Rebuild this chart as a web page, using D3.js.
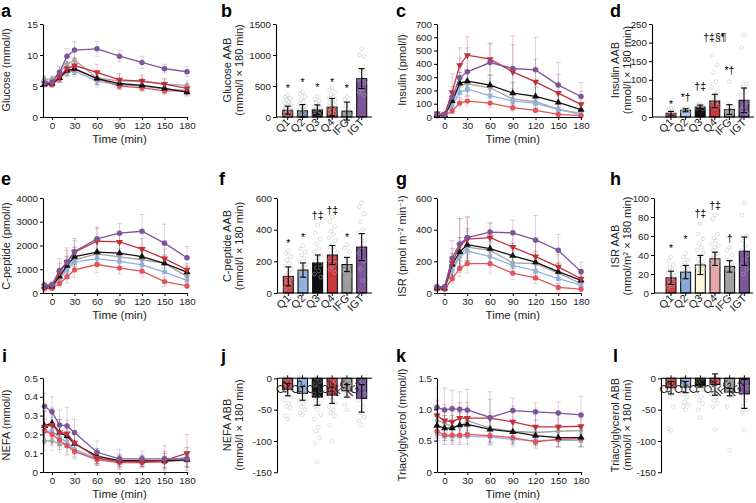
<!DOCTYPE html>
<html><head><meta charset="utf-8">
<script src="https://cdn.jsdelivr.net/npm/d3@7"></script>
<style>body{margin:0;background:#fff} svg text{font-family:Arial,"Liberation Sans",sans-serif}</style>
</head><body><svg id="c" width="756" height="503"></svg>
<script>
// ---------- data ----------
const time = [-10,0,10,20,30,60,90,120,150,180];
const timeTicks = [0,30,60,90,120,150,180];
const groups = ["Q1","Q2","Q3","Q4","IFG","IGT"];

// line panels: rows = Q1,Q2,Q3,Q4,IFG,IGT
const glucoseMean = [
 [5.3,5.2,6.2,7.5,7.7,6.2,5.0,4.7,4.2,4.2],
 [5.3,5.3,6.3,7.3,7.4,5.8,5.2,5.0,4.5,4.3],
 [5.3,5.4,6.3,7.5,7.8,6.2,5.4,5.1,4.6,4.0],
 [5.5,5.5,6.5,7.8,8.3,7.2,6.0,5.8,5.3,4.6],
 [6.1,6.1,7.2,8.5,9.2,6.3,5.8,5.8,5.3,5.1],
 [5.5,5.6,7.2,9.8,10.8,11.0,9.8,8.8,7.8,7.3]];
const glucoseErr = [
 [0.4,0.4,0.6,0.8,0.8,0.9,0.6,0.6,0.6,0.6],
 [0.4,0.4,0.7,0.8,0.9,1.0,0.8,0.7,0.7,0.6],
 [0.4,0.4,0.7,0.9,0.9,1.0,0.8,0.8,0.7,0.6],
 [0.5,0.5,0.8,0.9,1.0,1.3,1.0,1.0,0.9,0.7],
 [0.6,0.5,0.9,1.0,1.0,1.1,1.0,0.9,0.8,0.8],
 [0.6,0.6,1.0,1.2,1.3,1.2,0.9,1.0,0.7,0.8]];

const insulinMean = [
 [10,10,45,105,120,105,70,50,20,10],
 [15,15,90,185,210,160,120,105,55,20],
 [15,15,120,255,270,240,180,155,110,55],
 [25,20,185,390,465,435,340,265,180,95],
 [15,15,100,240,250,220,135,115,60,25],
 [20,15,150,295,340,410,365,355,240,154]];
const insulinErr = [
 [5,5,20,30,35,35,25,20,10,5],
 [8,8,40,55,55,50,45,40,30,15],
 [10,10,60,80,80,75,80,70,60,40],
 [15,15,140,130,140,120,270,170,140,100],
 [10,10,50,70,80,70,80,60,40,20],
 [10,10,80,150,180,140,180,245,170,104]];

const cpepMean = [
 [180,200,400,680,970,1200,1050,920,480,300],
 [220,230,600,950,1300,1450,1330,1180,880,530],
 [280,280,700,1150,1530,1720,1680,1530,1250,880],
 [280,300,850,1300,1720,2180,2150,1850,1450,980],
 [300,300,700,1050,1400,1650,1520,1400,1250,700],
 [320,350,950,1300,1750,2280,2520,2600,2100,1480]];
const cpepErr = [
 [80,80,150,250,300,350,250,250,200,120],
 [100,100,200,300,350,350,300,300,250,200],
 [120,120,300,400,400,450,400,400,350,250],
 [130,130,400,500,500,550,450,450,400,250],
 [120,120,250,350,400,400,350,350,300,200],
 [150,150,500,600,550,500,400,700,800,470]];

const isrMean = [
 [25,25,90,155,185,185,125,95,35,25],
 [30,30,140,230,265,230,175,140,90,50],
 [30,30,180,260,305,280,235,195,135,80],
 [30,30,190,300,340,350,290,230,165,90],
 [35,35,150,240,290,270,190,185,125,60],
 [40,40,220,310,350,385,380,335,270,135]];
const isrErr = [
 [10,10,30,50,60,60,40,35,25,15],
 [12,12,50,70,80,70,60,50,40,25],
 [12,12,70,90,100,90,80,70,55,40],
 [15,15,90,170,140,90,100,90,80,50],
 [15,15,60,90,100,90,70,70,60,40],
 [15,15,110,160,130,60,80,155,100,60]];

const nefaMean = [
 [0.22,0.20,0.17,0.14,0.11,0.065,0.05,0.05,0.055,0.065],
 [0.215,0.22,0.18,0.16,0.12,0.07,0.055,0.05,0.055,0.08],
 [0.245,0.26,0.21,0.19,0.15,0.085,0.06,0.06,0.06,0.065],
 [0.24,0.25,0.21,0.205,0.155,0.075,0.055,0.055,0.06,0.10],
 [0.165,0.165,0.15,0.145,0.12,0.07,0.06,0.06,0.06,0.06],
 [0.35,0.32,0.25,0.245,0.21,0.105,0.07,0.07,0.07,0.07]];
const nefaErr = [
 [0.06,0.06,0.05,0.05,0.04,0.03,0.02,0.02,0.03,0.04],
 [0.07,0.07,0.06,0.05,0.04,0.03,0.03,0.03,0.03,0.05],
 [0.08,0.08,0.07,0.06,0.05,0.04,0.03,0.03,0.04,0.04],
 [0.08,0.08,0.07,0.07,0.06,0.04,0.04,0.03,0.05,0.10],
 [0.05,0.05,0.05,0.05,0.04,0.03,0.02,0.02,0.02,0.03],
 [0.07,0.08,0.08,0.10,0.07,0.06,0.05,0.04,0.07,0.06]];

const tgMean = [
 [0.65,0.59,0.59,0.59,0.60,0.58,0.55,0.48,0.52,0.53],
 [0.61,0.57,0.57,0.57,0.57,0.56,0.52,0.50,0.51,0.50],
 [0.74,0.70,0.70,0.75,0.76,0.68,0.64,0.58,0.55,0.55],
 [0.90,0.82,0.80,0.86,0.86,0.86,0.80,0.72,0.72,0.73],
 [0.82,0.78,0.72,0.72,0.82,0.70,0.65,0.63,0.65,0.66],
 [1.03,0.99,1.01,1.00,0.99,0.87,0.98,0.96,0.94,0.91]];
const tgErr = [
 [0.15,0.15,0.15,0.15,0.15,0.15,0.12,0.10,0.12,0.12],
 [0.15,0.13,0.13,0.13,0.13,0.13,0.12,0.10,0.10,0.10],
 [0.20,0.20,0.20,0.20,0.20,0.20,0.18,0.15,0.15,0.15],
 [0.25,0.25,0.25,0.25,0.25,0.30,0.25,0.20,0.20,0.20],
 [0.25,0.25,0.25,0.25,0.25,0.25,0.20,0.20,0.20,0.20],
 [0.32,0.35,0.30,0.28,0.33,0.41,0.20,0.14,0.18,0.30]];

// bar panels: mean, SD, individual values, annotations
const glucoseAABMean = [110,100,115,160,95,620];
const glucoseAABSd = [65,100,80,140,145,160];
const glucoseAABDots = [
 [350,320,300,280,250,220,200,180,160,150,140,120,100,90,80,60,40,30,20,10],
 [400,370,330,280,250,210,180,150,130,110,90,70,50,40,20,10],
 [330,290,260,230,200,170,150,130,110,90,70,50,30,10],
 [470,440,400,360,320,300,280,250,230,200,180,160,140,120,100,80,60,40,20],
 [320,280,230,180,120,80,40,20,10],
 [1100,1000,980,750,620,600,550,450,400,350]];
const glucoseAABNotes = ["*","*","*","*","*",""];
const glucoseAABNoteY = [465,560,480,570,465,0];

const insulinAABMean = [10,18,27,43,20,45];
const insulinAABSd = [5,4,5,18,13,33];
const insulinAABDots = [
 [25,20,15,12,10,8,6,4],
 [25,22,20,18,16,14,12],
 [35,32,30,28,26,24,22],
 [200,165,140,120,95,80,70,60,55,50,45,40,35,30,25],
 [95,35,28,22,18,15,12,10],
 [220,187,90,80,70,60,40,30,20,10]];
const insulinAABNotes = ["*","*†","†‡","†‡§¶","*†",""];
const insulinAABNoteY = [36,55,84,214,127,0];

const cpepAABMean = [105,145,190,240,180,290];
const cpepAABSd = [60,45,50,60,45,85];
const cpepAABDots = [
 [265,250,230,210,190,170,150,130,110,90,70,50,30],
 [300,280,260,240,220,200,180,160,140,120,100,80],
 [430,380,340,310,280,260,240,220,200,180,160,140,120,100],
 [480,450,420,390,370,350,330,310,290,270,250,230,210,190,170,150,130],
 [305,285,260,200,170,140,110,90],
 [570,545,500,450,400,380,330,290,250,200,150,80]];
const cpepAABNotes = ["*","*","†‡","†‡","*",""];
const cpepAABNoteY = [315,352,495,526,356,0];

const isrAABMean = [16,22,29.5,36,28,44];
const isrAABSd = [7,7,10,7,6,15];
const isrAABDots = [
 [38,34,30,27,24,21,18,16,14,12,10,8,6],
 [42,38,35,32,29,27,25,23,21,19,17,15,13],
 [73,62,57,52,48,45,42,39,36,33,31,29,27,25,23,21],
 [82,78,62,58,55,52,50,48,45,42,40,38,36,34,32,30,28,26,24],
 [48,45,40,35,30,27,24,20,16],
 [95,82,60,55,50,45,40,35,30,25,20]];
const isrAABNotes = ["*","*","†‡","†‡","†",""];
const isrAABNoteY = [47,57,84,93,58,0];

const nefaABBMean = [-18,-24,-30,-27,-20,-32];
const nefaABBSd = [10,11,13,13,10,22];
const nefaABBDots = [
 [-65,-60,-48,-45,-40,-35,-30,-25,-20,-15,-10,-5,0],
 [-58,-55,-50,-45,-40,-35,-30,-25,-20,-15,-10,-5,0],
 [-133,-103,-95,-85,-78,-65,-58,-50,-45,-40,-35,-30,-25,-20,-15,-10,-5,0],
 [-100,-75,-60,-55,-50,-45,-40,-35,-30,-25,-20,-15,-10,-5],
 [-50,-42,-30,-25,-20,-15,-10,-5],
 [-75,-68,-62,-55,-45,-35,-25,-15,-8]];

const tgABBMean = [-15,-14,-12,-10,-22,-25];
const tgABBSd = [10,9,2,17,6,23];
const tgABBDots = [
 [-83,-80,-45,-30,-25,-20,-15,-10,-5,0],
 [-50,-45,-42,-38,-30,-25,-20,-15,-10,-5,0],
 [-63,-50,-40,-35,-30,-25,-18,-12,-5,0],
 [-82,-45,-40,-35,-30,-25,-20,-15,-10,-5,0],
 [-115,-45,-28,-20,-15,-10],
 [-83,-55,-50,-45,-35,-25,-15,-5]];

// ---------- styles ----------
const lineCol = ["#e2535b","#8fb0de","#111111","#c1303b","#a2a2a2","#7c559a"];
const drawOrder = [4,1,0,2,3,5];
const barColA = ["#c0393f","#5878a8","#111111","#c8383f","#8e8e8e","#7c559a"];
const barColB = ["#c0393f","#a6c3ea","#111111","#c8383f","#9c9c9c","#7c559a"];
const barColF = ["#d04a50","#8fb0de","#111111","#c8383f","#9c9c9c","#7c559a"];
const barColJ = ["#c0393f","#8fb0de","#111111","#c8383f","#9c9c9c","#7c559a"];
const barColH = ["#d2434a","#86a6dc","#fff8dc","#e9a5a5","#a0a0a0","#7c559a"];

const svg = d3.select("#c");
const FONT = 'Arial,"Liberation Sans",sans-serif';

function styleAxis(g){
  g.selectAll("path.domain").attr("stroke","#000").attr("stroke-width",1.1);
  g.selectAll(".tick line").attr("stroke","#000").attr("stroke-width",1);
  g.selectAll(".tick text").attr("font-size","9.8px").attr("fill","#222").attr("font-family",FONT);
}
function letter(t,x,y){
  svg.append("text").attr("x",x).attr("y",y).text(t)
    .attr("font-size","18px").attr("font-weight","bold").attr("font-family",FONT);
}
function yTitle(lines,x,yc){
  lines.forEach((l,i)=>{
    const t = svg.append("text").attr("transform",`translate(${l.x},${yc}) rotate(-90)`)
      .attr("text-anchor","middle").attr("font-size","11px").attr("fill","#222").attr("font-family",FONT);
    l.parts.forEach(p=>{
      const ts = t.append("tspan").text(p.t);
      if(p.sup){ ts.attr("baseline-shift","super").attr("font-size","7px"); }
    });
  });
}
function symbolPath(i){
  const types=[d3.symbolCircle,d3.symbolSquare,d3.symbolTriangle,d3.symbolTriangle,d3.symbolDiamond,d3.symbolCircle];
  const sizes=[22,19,22,22,20,24];
  return d3.symbol().type(types[i]).size(sizes[i])();
}

function linePanel(cfg, means, errs){
  const x = d3.scaleLinear().domain(cfg.xd).range(cfg.xr);
  const y = d3.scaleLinear().domain(cfg.yd).range(cfg.yr);
  const g = svg.append("g");
  drawOrder.forEach(s=>{
    const eg = g.append("g").attr("stroke",lineCol[s]).attr("stroke-opacity",0.3).attr("stroke-width",0.9);
    time.forEach((t,k)=>{
      const m = means[s][k], e = errs[s][k];
      const lo = Math.max(cfg.yd[0], m-e);
      eg.append("line").attr("x1",x(t)).attr("x2",x(t)).attr("y1",y(m+e)).attr("y2",y(lo));
      eg.append("line").attr("x1",x(t)-2.5).attr("x2",x(t)+2.5).attr("y1",y(m+e)).attr("y2",y(m+e));
      if(m-e>cfg.yd[0]) eg.append("line").attr("x1",x(t)-2.5).attr("x2",x(t)+2.5).attr("y1",y(m-e)).attr("y2",y(m-e));
    });
  });
  const line = d3.line().x((d,k)=>x(time[k])).y(d=>y(d));
  drawOrder.forEach(s=>{
    g.append("path").datum(means[s]).attr("d",line).attr("fill","none")
      .attr("stroke",lineCol[s]).attr("stroke-width",1.3);
    g.selectAll(null).data(means[s]).join("path")
      .attr("d",symbolPath(s))
      .attr("transform",(d,k)=>`translate(${x(time[k])},${y(d)})${s===3?" rotate(180)":""}`)
      .attr("fill",lineCol[s]);
  });
  const ax = g.append("g").attr("transform",`translate(0,${cfg.yr[0]})`)
    .call(d3.axisBottom(x).tickValues(timeTicks).tickSize(3).tickSizeOuter(0).tickPadding(2));
  styleAxis(ax);
  const ay = g.append("g").attr("transform",`translate(${cfg.xr[0]},0)`)
    .call(d3.axisLeft(y).tickValues(cfg.ticks).tickSize(3).tickSizeOuter(0).tickPadding(2).tickFormat(cfg.fmt||(d=>String(d))));
  styleAxis(ay);
  svg.append("text").attr("x",(x(0)+x(180))/2).attr("y",cfg.yr[0]+26).attr("text-anchor","middle")
    .attr("font-size","11.5px").attr("fill","#222").attr("font-family",FONT).text("Time (min)");
}

function barPanel(cfg, means, sds, dots, cols, notes, noteY){
  const step = (cfg.c1-cfg.c0)/5;
  const x = d3.scaleBand().domain(groups).range([cfg.c0-step/2, cfg.c1+step/2]).paddingInner(0.32).paddingOuter(0.16);
  const y = d3.scaleLinear().domain(cfg.yd).range(cfg.yr);
  const g = svg.append("g");
  const neg = cfg.yd[1] <= 0;
  const y0 = y(0);
  groups.forEach((grp,i)=>{
    const m = means[i];
    g.append("rect").attr("x",x(grp)).attr("width",x.bandwidth())
      .attr("y",Math.min(y(m),y0)).attr("height",Math.abs(y(m)-y0))
      .attr("fill",cols[i]).attr("stroke","#000").attr("stroke-width",1);
  });
  groups.forEach((grp,i)=>{
    const cx = x(grp)+x.bandwidth()/2;
    const offs=[0,-2.4,2.4,-1.2,1.2,-3.2,3.2];
    g.selectAll(null).data(dots[i]).join("circle")
      .attr("cx",(d,k)=>cx+offs[k%offs.length]).attr("cy",d=>y(d)).attr("r",1.9)
      .attr("fill","none").attr("stroke","#b9b9b9").attr("stroke-opacity",0.6).attr("stroke-width",0.75);
  });
  groups.forEach((grp,i)=>{
    const cx = x(grp)+x.bandwidth()/2, m=means[i], s=sds[i];
    const a = y(m+s), b = y(m-s);
    g.append("line").attr("x1",cx).attr("x2",cx).attr("y1",a).attr("y2",b).attr("stroke","#000").attr("stroke-width",1.1);
    [a,b].forEach(yy=>g.append("line").attr("x1",cx-3).attr("x2",cx+3).attr("y1",yy).attr("y2",yy).attr("stroke","#000").attr("stroke-width",1.1));
  });
  if(notes){
    groups.forEach((grp,i)=>{
      if(!notes[i]) return;
      g.append("text").attr("x",x(grp)+x.bandwidth()/2).attr("y",y(noteY[i])+4).attr("text-anchor","middle")
        .attr("font-size","10.5px").attr("fill","#000").attr("font-family",FONT).text(notes[i]);
    });
  }
  const ay = g.append("g").attr("transform",`translate(${cfg.ax},0)`)
    .call(d3.axisLeft(y).tickValues(cfg.ticks).tickSize(3).tickSizeOuter(0).tickPadding(2).tickFormat(d=>String(d)));
  styleAxis(ay);
  g.append("line").attr("x1",cfg.ax).attr("x2",cfg.xend).attr("y1",y0).attr("y2",y0).attr("stroke","#000").attr("stroke-width",1.1);
  const labY = neg ? cfg.yr[1] : cfg.yr[0];
  groups.forEach(grp=>{
    const cx = x(grp)+x.bandwidth()/2;
    g.append("line").attr("x1",cx).attr("x2",cx).attr("y1",y0).attr("y2",y0+(neg?-3:3)).attr("stroke","#000");
    g.append("text").attr("transform",`translate(${cx+3},${labY+6}) rotate(-45)`).attr("text-anchor","end")
      .attr("font-size","11px").attr("fill","#222").attr("font-family",FONT).text(grp);
  });
}

// ---------- panels ----------
const colA = [-12,180], colC = [-10,180];
letter("a",1,17);
linePanel({xd:colA,xr:[43,187],yd:[0,15],yr:[117,24],ticks:[0,5,10,15]},glucoseMean,glucoseErr);
yTitle([{x:10,parts:[{t:"Glucose (mmol/l)"}]}],0,70);

letter("b",221,17);
barPanel({c0:287.7,c1:361.7,ax:276,xend:372,yd:[0,1500],yr:[117,24],ticks:[0,500,1000,1500]},
  glucoseAABMean,glucoseAABSd,glucoseAABDots,barColA,glucoseAABNotes,glucoseAABNoteY);
yTitle([{x:231,parts:[{t:"Glucose AAB"}]},{x:243,parts:[{t:"(mmol/l × 180 min)"}]}],0,70);

letter("c",396,17);
linePanel({xd:colC,xr:[437,581],yd:[0,700],yr:[117,24],ticks:[0,100,200,300,400,500,600,700]},insulinMean,insulinErr);
yTitle([{x:406,parts:[{t:"Insulin (pmol/l)"}]}],0,70);

letter("d",610,17);
barPanel({c0:671,c1:744,ax:652,xend:754,yd:[0,250],yr:[117,24],ticks:[0,50,100,150,200,250]},
  insulinAABMean,insulinAABSd,insulinAABDots,barColB,insulinAABNotes,insulinAABNoteY);
yTitle([{x:619,parts:[{t:"Insulin AAB"}]},{x:631,parts:[{t:"(nmol/l × 180 min)"}]}],0,70);

letter("e",1,185);
linePanel({xd:colA,xr:[43,187],yd:[0,4000],yr:[293,198],ticks:[0,1000,2000,3000,4000]},cpepMean,cpepErr);
yTitle([{x:10,parts:[{t:"C-peptide (pmol/l)"}]}],0,246);

letter("f",219,185);
barPanel({c0:288.3,c1:361.7,ax:277,xend:372,yd:[0,600],yr:[293,198],ticks:[0,200,400,600]},
  cpepAABMean,cpepAABSd,cpepAABDots,barColF,cpepAABNotes,cpepAABNoteY);
yTitle([{x:231,parts:[{t:"C-peptide AAB"}]},{x:243,parts:[{t:"(nmol/l × 180 min)"}]}],0,246);

letter("g",396,185);
linePanel({xd:colC,xr:[437,581],yd:[0,600],yr:[293,198],ticks:[0,200,400,600]},isrMean,isrErr);
yTitle([{x:406,parts:[{t:"ISR (pmol m"},{t:"−2",sup:true},{t:" min"},{t:"−1",sup:true},{t:")"}]}],0,246);

letter("h",610,185);
barPanel({c0:671,c1:744.3,ax:654,xend:753,yd:[0,100],yr:[293,198],ticks:[0,20,40,60,80,100]},
  isrAABMean,isrAABSd,isrAABDots,barColH,isrAABNotes,isrAABNoteY);
yTitle([{x:619,parts:[{t:"ISR AAB"}]},{x:631,parts:[{t:"(nmol/m"},{t:"2",sup:true},{t:" × 180 min)"}]}],0,246);

letter("i",2,362);
linePanel({xd:colA,xr:[43,187],yd:[0,0.5],yr:[472,378],ticks:[0,0.1,0.2,0.3,0.4,0.5],fmt:d=>d===0?"0":d3.format(".1f")(d)},nefaMean,nefaErr);
yTitle([{x:10,parts:[{t:"NEFA (mmol/l)"}]}],0,425);

letter("j",221,362);
barPanel({c0:287.7,c1:361.7,ax:277,xend:372,yd:[-150,0],yr:[472.3,378.3],ticks:[0,-50,-100,-150]},
  nefaABBMean,nefaABBSd,nefaABBDots,barColJ,null,null);
yTitle([{x:231,parts:[{t:"NEFA ABB"}]},{x:243,parts:[{t:"(mmol/l × 180 min)"}]}],0,425);

letter("k",396,362);
linePanel({xd:colC,xr:[437,581],yd:[0,1.5],yr:[472,378],ticks:[0,0.5,1.0,1.5],fmt:d=>d===0?"0":d3.format(".1f")(d)},tgMean,tgErr);
yTitle([{x:406,parts:[{t:"Triacylglycerol (mmol/l)"}]}],0,425);

letter("l",613,362);
barPanel({c0:671,c1:744.3,ax:661,xend:750,yd:[-150,0],yr:[472.3,378.3],ticks:[0,-50,-100,-150]},
  tgABBMean,tgABBSd,tgABBDots,barColJ,null,null);
yTitle([{x:619,parts:[{t:"Triacylglycerol ABB"}]},{x:631,parts:[{t:"(mmol/l × 180 min)"}]}],0,425);
</script></body></html>
